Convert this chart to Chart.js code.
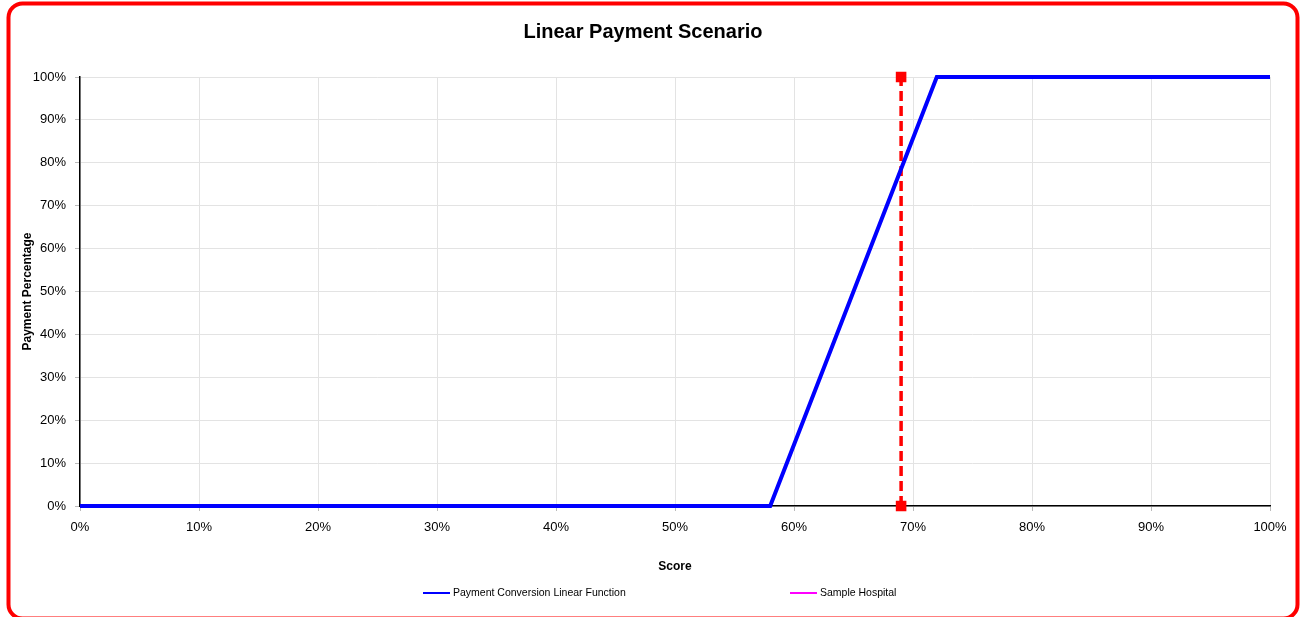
<!DOCTYPE html>
<html>
<head>
<meta charset="utf-8">
<script src="https://cdn.jsdelivr.net/npm/chart.js@4"></script>
<style>
  html, body { margin: 0; padding: 0; background: #fff; }
  #wrap { width: 1302px; height: 617px; }
</style>
</head>
<body>
<div id="wrap"><canvas id="chart" width="1302" height="617"></canvas></div>
<script>
// payment conversion function (score -> payment %)
var scoreX = [0, 58, 72, 100];
var paymentY = [0, 0, 100, 100];
// sample hospital marker line
var sampleX = [69, 69];
var sampleY = [0, 100];
var seriesNames = ["Payment Conversion Linear Function", "Sample Hospital"];
var legendColors = ["#0000ff", "#ff00ff"];

function pts(xs, ys) {
    return xs.map(function (x, i) { return { x: x, y: ys[i] }; });
}

var frame = {
    id: "frame",
    afterDraw: function (chart) {
        var ctx = chart.ctx;
        ctx.save();
        // rounded red border
        ctx.strokeStyle = "#ff0000";
        ctx.lineWidth = 4;
        ctx.beginPath();
        ctx.roundRect(8.5, 3.5, 1289, 615, 14);
        ctx.stroke();
        // legend
        ctx.font = "10.5px 'Liberation Sans', Arial, sans-serif";
        ctx.textBaseline = "middle";
        ctx.fillStyle = "#000";
        var items = [{ x: 423 }, { x: 790 }];
        items.forEach(function (it, i) {
            ctx.strokeStyle = legendColors[i];
            ctx.lineWidth = 2;
            ctx.beginPath();
            ctx.moveTo(it.x, 593);
            ctx.lineTo(it.x + 27, 593);
            ctx.stroke();
            ctx.fillText(seriesNames[i], it.x + 30, 593);
        });
        ctx.restore();
    }
};

var ctx = document.getElementById("chart").getContext("2d");
var chart = new Chart(ctx, {
    type: "scatter",
    data: {
        datasets: [{
            label: seriesNames[0],
            data: pts(scoreX, paymentY),
            showLine: true,
            borderColor: "#0000ff",
            borderWidth: 4,
            pointRadius: 0,
            clip: false
        }, {
            label: seriesNames[1],
            data: pts(sampleX, sampleY),
            showLine: true,
            borderColor: "#ff0000",
            borderWidth: 3.5,
            borderDash: [10, 5],
            pointStyle: "rect",
            pointRadius: 5,
            pointBackgroundColor: "#ff0000",
            pointBorderColor: "#ff0000",
            clip: false
        }]
    },
    plugins: [frame],
    options: {
        responsive: false,
        animation: false,
        layout: { padding: { left: 16, right: 32, top: 0, bottom: 39 } },
        plugins: {
            legend: { display: false },
            tooltip: { enabled: false },
            title: {
                display: true,
                text: "Linear Payment Scenario",
                color: "#000",
                font: { family: "'Liberation Sans', Arial, sans-serif", size: 20, weight: "bold" },
                padding: { top: 20, bottom: 33 }
            }
        },
        scales: {
            x: {
                type: "linear",
                min: 0,
                max: 100,
                ticks: {
                    stepSize: 10,
                    color: "#000",
                    padding: 9,
                    font: { family: "'Liberation Sans', Arial, sans-serif", size: 13 },
                    callback: function (v) { return v + "%"; }
                },
                grid: { color: "#e3e3e3", tickLength: 5, tickColor: "#bbbbbb" },
                border: { color: "#000", width: 1.5 },
                title: {
                    display: true,
                    text: "Score",
                    color: "#000",
                    font: { family: "'Liberation Sans', Arial, sans-serif", size: 12, weight: "bold" },
                    padding: { top: 15, bottom: 4 }
                }
            },
            y: {
                min: 0,
                max: 100,
                ticks: {
                    stepSize: 10,
                    color: "#000",
                    padding: 9,
                    font: { family: "'Liberation Sans', Arial, sans-serif", size: 13 },
                    callback: function (v) { return v + "%"; }
                },
                grid: { color: "#e3e3e3", tickLength: 5, tickColor: "#bbbbbb" },
                border: { color: "#000", width: 1.5 },
                title: {
                    display: true,
                    text: "Payment Percentage",
                    color: "#000",
                    font: { family: "'Liberation Sans', Arial, sans-serif", size: 12, weight: "bold" },
                    padding: { top: 4, bottom: 4 }
                },
                afterFit: function (scale) { scale.width = 64; }
            }
        }
    }
});
</script>
</body>
</html>
